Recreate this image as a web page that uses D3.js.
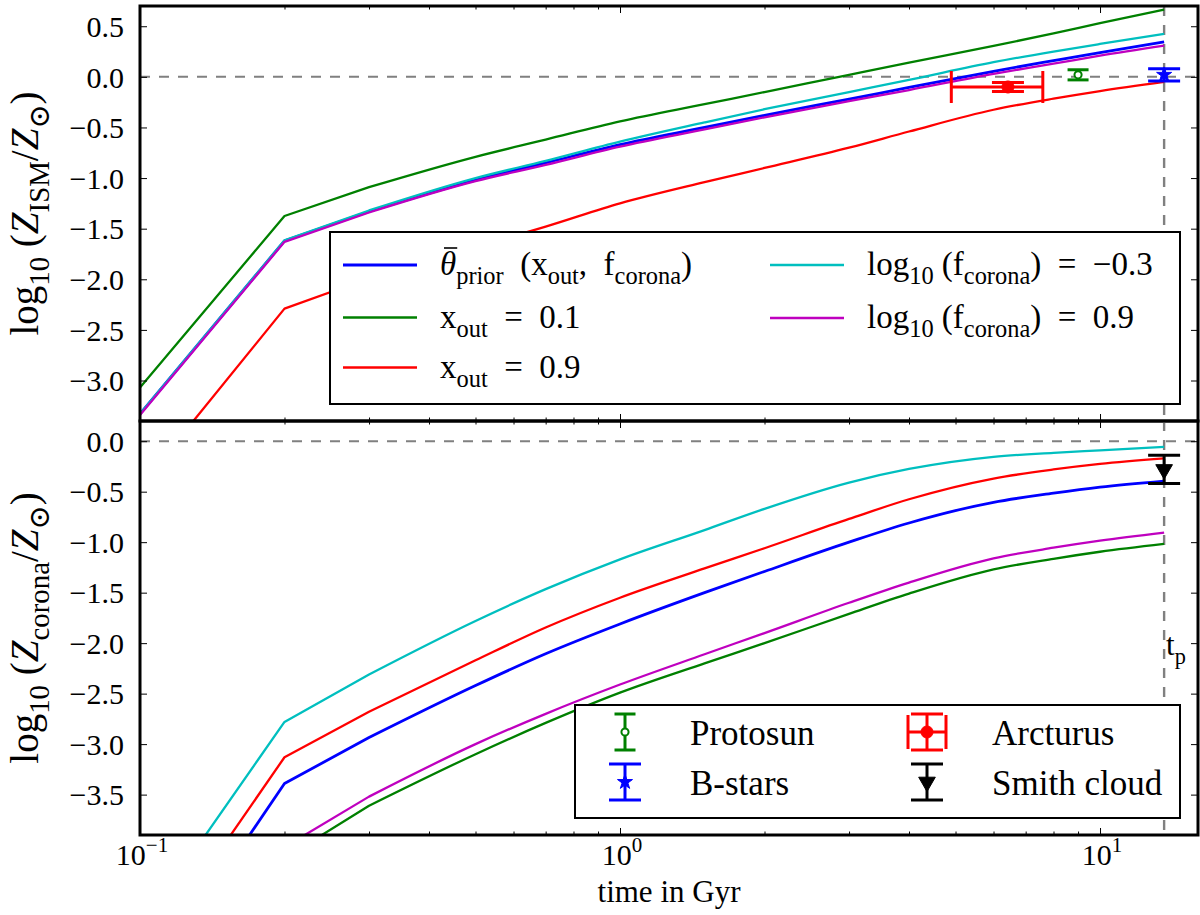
<!DOCTYPE html>
<html>
<head>
<meta charset="utf-8">
<script src="https://cdn.jsdelivr.net/npm/d3@7"></script>
<style>
  body { margin: 0; background: #fff; }
  text { font-family: "Liberation Serif", "DejaVu Serif", serif; fill: #000; white-space: pre; }
</style>
</head>
<body>
<script>
// model time grid (Gyr) and read-off curves, log10 of metallicity
const times = [0.1, 0.2, 0.3, 0.5, 0.7, 1.0, 1.5, 2, 3, 4, 6, 8, 10, 13.6]

const ismPrior = [-3.33, -1.62, -1.33, -1.02, -0.85, -0.67, -0.50, -0.38, -0.22, -0.105, 0.055, 0.16, 0.24, 0.345]
const ismX01   = [-3.07, -1.375, -1.09, -0.79, -0.62, -0.44, -0.27, -0.15, 0.02, 0.14, 0.305, 0.43, 0.53, 0.664]
const ismX09   = [-4.05, -2.29, -1.99, -1.68, -1.48, -1.25, -1.04, -0.90, -0.70, -0.54, -0.325, -0.215, -0.14, -0.05]
const ismFm03  = [-3.33, -1.615, -1.32, -1.00, -0.83, -0.64, -0.45, -0.32, -0.15, -0.03, 0.145, 0.25, 0.325, 0.424]
const ismF09   = [-3.34, -1.63, -1.34, -1.03, -0.87, -0.69, -0.52, -0.40, -0.24, -0.13, 0.03, 0.13, 0.21, 0.309]

const corPrior = [-5.5, -3.39, -2.935, -2.42, -2.105, -1.81, -1.50, -1.29, -1.00, -0.81, -0.605, -0.515, -0.455, -0.395]
const corX01   = [-6.2, -4.13, -3.61, -3.10, -2.79, -2.49, -2.20, -2.00, -1.71, -1.51, -1.27, -1.165, -1.095, -1.017]
const corX09   = [-5.2, -3.13, -2.68, -2.17, -1.845, -1.55, -1.26, -1.06, -0.77, -0.575, -0.37, -0.28, -0.225, -0.171]
const corFm03  = [-4.83, -2.78, -2.31, -1.78, -1.465, -1.17, -0.88, -0.67, -0.41, -0.275, -0.155, -0.115, -0.09, -0.056]
const corF09   = [-6.0, -4.02, -3.52, -3.00, -2.70, -2.41, -2.11, -1.90, -1.60, -1.40, -1.16, -1.055, -0.985, -0.905]

// observations
const obsNames  = ['Protosun', 'B-stars', 'Arcturus', 'Smith cloud']
const obsPanel  = ['ism', 'ism', 'ism', 'corona']
const obsTime   = [9.0, 13.6, 6.43, 13.6]
const obsValue  = [0.02, 0.02, -0.10, -0.28]
const obsYErr   = [0.05, 0.06, 0.045, 0.14]
const obsXLow   = [null, null, 4.9, null]
const obsXHigh  = [null, null, 7.6, null]

const tPresent = 13.6
const yTicksIsm = [-3.0, -2.5, -2.0, -1.5, -1.0, -0.5, 0.0, 0.5]
const yTicksCor = [-3.5, -3.0, -2.5, -2.0, -1.5, -1.0, -0.5, 0.0]
const xMajor = [0.1, 1, 10]
const xMajorExp = ['−1', '0', '1']
const xMinor = [0.2, 0.3, 0.4, 0.5, 0.6, 0.7, 0.8, 0.9, 2, 3, 4, 5, 6, 7, 8, 9]

const seriesNames = ['prior', 'x01', 'x09', 'fm03', 'f09']
const seriesColor = {prior: '#0000ff', x01: '#008000', x09: '#ff0000', fm03: '#00bfbf', f09: '#bf00bf'}
const seriesWidth = {prior: 2.8, x01: 2.3, x09: 2.3, fm03: 2.3, f09: 2.3}
const obsStyle = {
  'Protosun':    {color: '#008000', sym: 'circle', size: 40, open: true, cap: 10.5},
  'B-stars':     {color: '#0000ff', sym: 'star', size: 70, open: false, cap: 16},
  'Arcturus':    {color: '#ff0000', sym: 'circle', size: 115, open: false, cap: 16},
  'Smith cloud': {color: '#000000', sym: 'tri', size: 120, open: false, cap: 16}
}

const W = 1200, H = 915
const L = 140, R = 1198, T = 6, MID = 421, B = 835

const svg = d3.select('body').append('svg').attr('width', W).attr('height', H)

const x = d3.scaleLog().domain([0.1, 16]).range([L, R])

const panels = [
  {key: 'ism', y: d3.scaleLinear().domain([-3.4, 0.7]).range([MID, T]), ticks: yTicksIsm,
   series: {prior: ismPrior, x01: ismX01, x09: ismX09, fm03: ismFm03, f09: ismF09},
   label: [['log'], ['10', 'sub'], [' ('], ['Z', 'it'], ['ISM', 'sub'], ['/'], ['Z', 'it'], ['⊙', 'sub'], [')']]},
  {key: 'corona', y: d3.scaleLinear().domain([-3.9, 0.2]).range([B, MID]), ticks: yTicksCor,
   series: {prior: corPrior, x01: corX01, x09: corX09, fm03: corFm03, f09: corF09},
   label: [['log'], ['10', 'sub'], [' ('], ['Z', 'it'], ['corona', 'sub'], ['/'], ['Z', 'it'], ['⊙', 'sub'], [')']]}
]

// text with sub/superscripts built from tspans
function richText(sel, parts, size, ratio = 0.72) {
  let shift = 0
  parts.forEach(p => {
    const txt = p[0], kind = p[1] || ''
    let target = 0, fs = size
    if (kind === 'sub') { target = size * 0.28; fs = size * ratio }
    if (kind === 'sup') { target = -size * 0.42; fs = size * 0.7 }
    const ts = sel.append('tspan').text(txt).attr('font-size', fs).attr('dy', target - shift)
    if (kind === 'it') ts.attr('font-style', 'italic')
    shift = target
  })
  return sel
}

function symbolPath(st) {
  if (st.sym === 'star') return d3.symbol(d3.symbolStar, st.size)()
  if (st.sym === 'tri') return d3.symbol(d3.symbolTriangle, st.size)()
  return d3.symbol(d3.symbolCircle, st.size)()
}

function drawMarker(g, cx, cy, st) {
  g.append('path').attr('d', symbolPath(st))
    .attr('transform', `translate(${cx},${cy})` + (st.sym === 'tri' ? ' rotate(180)' : ''))
    .attr('fill', st.open ? '#fff' : st.color)
    .attr('stroke', st.color).attr('stroke-width', st.open ? 2 : 1)
}

// straight segments over the coarse early steps, smooth afterwards
const lineEarly = y => d3.line().x(d => x(d[0])).y(d => y(d[1]))
const lineLate = y => d3.line().x(d => x(d[0])).y(d => y(d[1])).curve(d3.curveMonotoneX)

panels.forEach((p, i) => {
  const y = p.y
  const [y0, y1] = y.range()
  const g = svg.append('g')

  g.append('clipPath').attr('id', 'clip' + i)
    .append('rect').attr('x', L).attr('y', y1).attr('width', R - L).attr('height', y0 - y1)
  const plot = g.append('g').attr('clip-path', `url(#clip${i})`)

  // solar reference and present day
  plot.append('line').attr('x1', L).attr('x2', R).attr('y1', y(0)).attr('y2', y(0))
    .attr('stroke', '#808080').attr('stroke-width', 2).attr('stroke-dasharray', '10,9')
  plot.append('line').attr('x1', x(tPresent)).attr('x2', x(tPresent)).attr('y1', y1).attr('y2', y0)
    .attr('stroke', '#808080').attr('stroke-width', 2.4).attr('stroke-dasharray', '10,9')

  seriesNames.forEach(s => {
    const pts = d3.zip(times, p.series[s])
    const d = lineEarly(y)(pts.slice(0, 3)) + lineLate(y)(pts.slice(2)).replace(/^M/, 'L')
    plot.append('path')
      .attr('d', d)
      .attr('fill', 'none')
      .attr('stroke', seriesColor[s])
      .attr('stroke-width', seriesWidth[s])
      .attr('stroke-linejoin', 'round')
  })

  // observations with error bars
  obsNames.forEach((name, k) => {
    if (obsPanel[k] !== p.key) return
    const st = obsStyle[name]
    const cx = x(obsTime[k]), cy = y(obsValue[k])
    const eb = plot.append('g').attr('stroke', st.color).attr('stroke-width', 3)
    const ya = y(obsValue[k] + obsYErr[k]), yb = y(obsValue[k] - obsYErr[k])
    eb.append('line').attr('x1', cx).attr('x2', cx).attr('y1', ya).attr('y2', yb)
    eb.append('line').attr('x1', cx - st.cap).attr('x2', cx + st.cap).attr('y1', ya).attr('y2', ya)
    eb.append('line').attr('x1', cx - st.cap).attr('x2', cx + st.cap).attr('y1', yb).attr('y2', yb)
    if (obsXLow[k] != null) {
      const xa = x(obsXLow[k]), xb = x(obsXHigh[k])
      eb.append('line').attr('x1', xa).attr('x2', xb).attr('y1', cy).attr('y2', cy)
      eb.append('line').attr('x1', xa).attr('x2', xa).attr('y1', cy - st.cap).attr('y2', cy + st.cap)
      eb.append('line').attr('x1', xb).attr('x2', xb).attr('y1', cy - st.cap).attr('y2', cy + st.cap)
    }
    drawMarker(plot, cx, cy, st)
  })

  // y ticks, inward on both sides
  const fmt = v => (v < 0 ? '−' : '') + Math.abs(v).toFixed(1)
  const ax = g.append('g').attr('transform', `translate(${L},0)`)
    .call(d3.axisLeft(y).tickValues(p.ticks).tickSize(-7).tickPadding(16).tickFormat(fmt))
  ax.attr('font-family', null)
  ax.select('.domain').remove()
  ax.selectAll('text').attr('font-size', 30).attr('dy', '0.34em')
  const axr = g.append('g').attr('transform', `translate(${R},0)`)
    .call(d3.axisRight(y).tickValues(p.ticks).tickSize(-7).tickFormat(''))
  axr.select('.domain').remove()

  // x ticks on top and bottom edge of the panel
  ;[[y1, 7], [y0, -7]].forEach(([yy, dir]) => {
    const a = g.append('g').attr('transform', `translate(0,${yy})`)
      .call(d3.axisBottom(x).tickValues(xMajor).tickSize(dir).tickFormat(''))
    a.select('.domain').remove()
    const m = g.append('g').attr('transform', `translate(0,${yy})`)
      .call(d3.axisBottom(x).tickValues(xMinor).tickSize(dir / 2).tickFormat(''))
    m.select('.domain').remove()
  })

  g.append('rect').attr('x', L).attr('y', y1).attr('width', R - L).attr('height', y0 - y1)
    .attr('fill', 'none').attr('stroke', '#000').attr('stroke-width', 3)

  // y label
  const lbl = g.append('text').attr('text-anchor', 'middle')
    .attr('transform', `translate(38,${(y0 + y1) / 2}) rotate(-90)`)
  richText(lbl, p.label, 39, 0.74)
})

svg.selectAll('.tick line').attr('stroke', '#000').attr('stroke-width', 1)

// x tick labels 10^n
xMajor.forEach((v, i) => {
  const t = svg.append('text').attr('x', x(v) + 2).attr('y', 865).attr('text-anchor', 'middle')
  richText(t, [['10'], [xMajorExp[i], 'sup']], 30)
})
svg.append('text').attr('x', 669).attr('y', 902).attr('text-anchor', 'middle')
  .attr('font-size', 31).text('time in Gyr')

// present-day marker label
richText(svg.append('text').attr('x', 1166).attr('y', 655), [['t'], ['p', 'sub']], 31)

// legend of the models (top panel)
const leg1 = svg.append('g')
leg1.append('rect').attr('x', 330).attr('y', 232).attr('width', 850).attr('height', 172)
  .attr('fill', '#fff').attr('stroke', '#000').attr('stroke-width', 2)
const leg1Labels = {
  prior: [['θ', 'it'], ['prior', 'sub'], ['  (x'], ['out', 'sub'], [',  f'], ['corona', 'sub'], [')']],
  x01: [['x'], ['out', 'sub'], ['  =  0.1']],
  x09: [['x'], ['out', 'sub'], ['  =  0.9']],
  fm03: [['log'], ['10', 'sub'], [' (f'], ['corona', 'sub'], [')  =  −0.3']],
  f09: [['log'], ['10', 'sub'], [' (f'], ['corona', 'sub'], [')  =  0.9']]
}
const leg1Pos = {prior: [343, 265], x01: [343, 317.5], x09: [343, 367.5], fm03: [770, 265], f09: [770, 318]}
seriesNames.forEach(s => {
  const [lx, ly] = leg1Pos[s]
  leg1.append('line').attr('x1', lx).attr('x2', lx + 74).attr('y1', ly).attr('y2', ly)
    .attr('stroke', seriesColor[s]).attr('stroke-width', seriesWidth[s] + 0.4)
  const t = richText(leg1.append('text').attr('x', lx + 97).attr('y', ly + 10), leg1Labels[s], 33, 0.74)
  if (s === 'prior') {
    // bar over theta
    const e = t.node().getExtentOfChar(0)
    leg1.append('line').attr('x1', e.x + 4).attr('x2', e.x + e.width + 1)
      .attr('y1', ly + 10 - 27).attr('y2', ly + 10 - 27).attr('stroke', '#000').attr('stroke-width', 1.6)
  }
})

// legend of the observations (bottom panel)
const leg2 = svg.append('g')
leg2.append('rect').attr('x', 575).attr('y', 705).attr('width', 605).attr('height', 113)
  .attr('fill', '#fff').attr('stroke', '#000').attr('stroke-width', 2)
const leg2Pos = {'Protosun': [625, 732], 'B-stars': [625, 782], 'Arcturus': [927, 732], 'Smith cloud': [927, 782]}
obsNames.forEach((name, k) => {
  const st = obsStyle[name]
  const [mx, my] = leg2Pos[name]
  const eb = leg2.append('g').attr('stroke', st.color).attr('stroke-width', 3)
  eb.append('line').attr('x1', mx).attr('x2', mx).attr('y1', my - 18).attr('y2', my + 18)
  eb.append('line').attr('x1', mx - st.cap).attr('x2', mx + st.cap).attr('y1', my - 18).attr('y2', my - 18)
  eb.append('line').attr('x1', mx - st.cap).attr('x2', mx + st.cap).attr('y1', my + 18).attr('y2', my + 18)
  if (obsXLow[k] != null) {
    eb.append('line').attr('x1', mx - 19).attr('x2', mx + 19).attr('y1', my).attr('y2', my)
    eb.append('line').attr('x1', mx - 19).attr('x2', mx - 19).attr('y1', my - 17).attr('y2', my + 17)
    eb.append('line').attr('x1', mx + 19).attr('x2', mx + 19).attr('y1', my - 17).attr('y2', my + 17)
  }
  drawMarker(leg2, mx, my, st)
  leg2.append('text').attr('x', mx + 65).attr('y', my + 13).attr('font-size', 35).text(name)
})
</script>
</body>
</html>
